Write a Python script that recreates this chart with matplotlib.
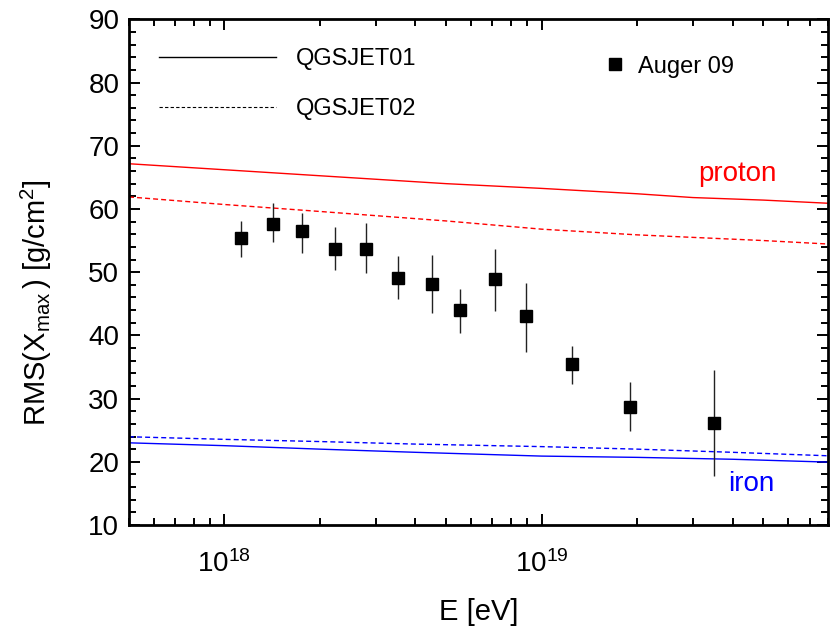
import matplotlib
matplotlib.use("Agg")
import matplotlib.pyplot as plt
from matplotlib.lines import Line2D
from matplotlib.ticker import MultipleLocator, LogLocator

plt.rcParams['font.family'] = ['Liberation Sans', 'DejaVu Sans']
plt.rcParams['mathtext.fontset'] = 'custom'
plt.rcParams['mathtext.rm'] = 'Liberation Sans'
plt.rcParams['mathtext.it'] = 'Liberation Sans:italic'

# Model curves
E_proton = [5e17, 1e18, 2e18, 5e18, 1e19, 2e19, 3e19, 5e19, 8e19]
proton_q01 = [67.15, 66.2, 65.25, 64.0, 63.25, 62.4, 61.8, 61.4, 60.9]
proton_q02 = [61.9, 60.7, 59.6, 58.1, 56.8, 55.9, 55.5, 55.0, 54.45]

E_iron = [5e17, 1e18, 2e18, 4e18, 1e19, 2e19, 4e19, 8e19]
iron_q01 = [23.0, 22.55, 22.0, 21.5, 20.9, 20.7, 20.4, 19.95]
iron_q02 = [23.96, 23.55, 23.2, 22.8, 22.4, 22.0, 21.5, 20.95]

# Auger 09 data
E_auger = [1.13e18, 1.42e18, 1.75e18, 2.23e18, 2.80e18, 3.52e18, 4.52e18,
           5.54e18, 7.13e18, 8.95e18, 1.245e19, 1.897e19, 3.49e19]
rms_auger = [55.45, 57.57, 56.5, 53.6, 53.6, 49.1, 48.07, 43.96, 48.9, 43.06,
             35.47, 28.7, 26.1]
err_up = [58.1, 60.9, 59.4, 57.2, 57.7, 52.6, 52.7, 47.4, 53.7, 48.3, 38.3, 32.67, 34.5]
err_lo = [52.45, 54.7, 53.1, 50.35, 49.9, 45.75, 43.6, 40.4, 43.9, 37.3, 32.3, 24.9, 17.8]

fig = plt.figure(figsize=(8.3, 6.3), dpi=100)
ax = fig.add_axes([129/830, 1-525/630, (828-129)/830, (525-19.3)/630])

dash = (3.6, 2.2)
ax.plot(E_proton, proton_q01, color='#ff0000', lw=1.0)
ax.plot(E_proton, proton_q02, color='#ff0000', lw=1.0, dashes=dash)
ax.plot(E_iron, iron_q01, color='#0000ff', lw=1.0)
ax.plot(E_iron, iron_q02, color='#0000ff', lw=1.0, dashes=dash)

yerr = [[r - l for r, l in zip(rms_auger, err_lo)],
        [u - r for u, r in zip(err_up, rms_auger)]]
ax.errorbar(E_auger, rms_auger, yerr=yerr, fmt='s', color='black', ms=8.6,
            elinewidth=1.0, ecolor='#222222', capsize=0, zorder=5)

ax.set_xscale('log')
ax.set_xlim(5e17, 8e19)
ax.set_ylim(10, 90)
ax.yaxis.set_major_locator(MultipleLocator(10))
ax.yaxis.set_minor_locator(MultipleLocator(2))
ax.xaxis.set_major_locator(LogLocator(base=10, numticks=10))
ax.xaxis.set_minor_locator(LogLocator(base=10, subs=range(2, 10), numticks=20))

ax.tick_params(which='both', direction='in', top=True, right=True,
               labelsize=20, width=1.4)
ax.tick_params(axis='x', pad=18)
ax.tick_params(axis='y', pad=7)
ax.tick_params(which='major', length=8)
ax.tick_params(which='minor', length=5)
for s in ax.spines.values():
    s.set_linewidth(2.0)

ax.set_xlabel('E [eV]', fontsize=21)
ax.set_ylabel(r'RMS(X$_{\mathrm{max}}$$\,$) [g/cm$^2$]', fontsize=21)
ax.yaxis.set_label_coords(-0.108, 0.44)
ax.xaxis.set_label_coords(0.5, -0.145)

ax.text(0.815, 0.695, 'proton', color='#ff0000', fontsize=20,
        transform=ax.transAxes, ha='left', va='center')
ax.text(0.857, 0.082, 'iron', color='#0000ff', fontsize=20,
        transform=ax.transAxes, ha='left', va='center')

h1 = [Line2D([], [], color='black', lw=1.0),
      Line2D([], [], color='black', lw=0.8, dashes=(3.0, 2.0))]
leg1 = ax.legend(h1, ['QGSJET01', 'QGSJET02'], loc='upper left',
                 bbox_to_anchor=(0.013, 0.985), frameon=False, fontsize=17,
                 handlelength=4.95, handletextpad=0.85, labelspacing=1.2)
ax.add_artist(leg1)
h2 = [Line2D([], [], marker='s', color='black', ls='none', ms=8.6)]
ax.legend(h2, ['Auger 09'], loc='upper left', bbox_to_anchor=(0.651, 0.97),
          frameon=False, fontsize=17, handlelength=0.8, handletextpad=0.6)

fig.savefig('out.png', dpi=100)
